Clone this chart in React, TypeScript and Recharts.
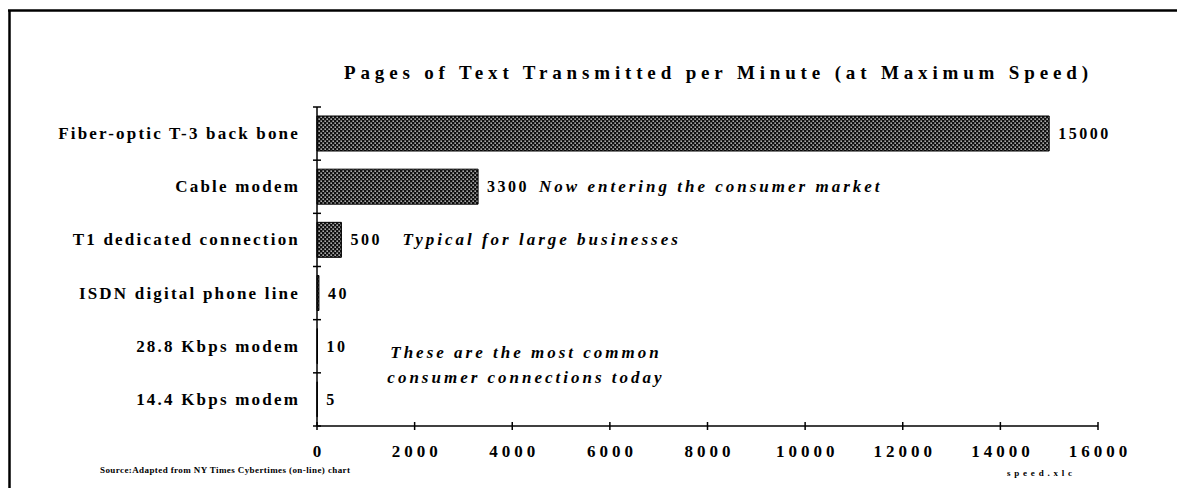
import React from 'react';
import { BarChart, Bar, XAxis, YAxis, LabelList, Customized } from 'recharts';

const categories = [
  'Fiber-optic T-3 back bone',
  'Cable modem',
  'T1 dedicated connection',
  'ISDN digital phone line',
  '28.8 Kbps modem',
  '14.4 Kbps modem',
];
const pagesPerMinute = [15000, 3300, 500, 40, 10, 5];
const xTicks = [0, 2000, 4000, 6000, 8000, 10000, 12000, 14000, 16000];
const rowNotes = ['', 'Now entering the consumer market', 'Typical for large businesses', '', '', ''];
const commonNote = ['These are the most common', 'consumer connections today'];
const title = 'Pages of Text Transmitted per Minute (at Maximum Speed)';
const sourceText = 'Source:Adapted from NY Times Cybertimes (on-line) chart';
const fileName = 'speed.xlc';

const data = categories.map((name, i) => ({ name, value: pagesPerMinute[i], note: rowNotes[i] }));

const W = 1170;
const H = 480;
const MARGIN = { top: 99, right: 80, bottom: 32, left: 0 };
const Y_AXIS_W = 309;
const X_AXIS_H = 30;
const PLOT_TOP = MARGIN.top;
const PLOT_BOTTOM = H - MARGIN.bottom - X_AXIS_H;
const BAND = (PLOT_BOTTOM - PLOT_TOP) / categories.length;
const FONT = '"Liberation Serif", "Times New Roman", serif';

const Y_TICK_SIZE = 8;
const Y_TICK_MARGIN = 9;
const X_TICK_SIZE = 4;
const X_TICK_MARGIN = 4;

const YTick = (props: any) => {
  const { x, y, payload, index } = props;
  const axisX = x + Y_TICK_SIZE + Y_TICK_MARGIN;
  const isLast = index === categories.length - 1;
  return (
    <g>
      <line x1={axisX - 4} x2={axisX + 4} y1={y - BAND / 2} y2={y - BAND / 2} stroke="#000" strokeWidth={1.5} />
      {isLast && (
        <line x1={axisX - 4} x2={axisX + 4} y1={y + BAND / 2} y2={y + BAND / 2} stroke="#000" strokeWidth={1.5} />
      )}
      <text
        x={x}
        y={y}
        textAnchor="end"
        dominantBaseline="central"
        fontFamily={FONT}
        fontWeight="bold"
        fontSize={17}
        letterSpacing={2.2}
        fill="#000"
      >
        {payload.value}
      </text>
    </g>
  );
};

const XTick = (props: any) => {
  const { x, y, payload } = props;
  const axisY = y - X_TICK_SIZE - X_TICK_MARGIN;
  return (
    <g>
      <line x1={x} x2={x} y1={axisY - 4} y2={axisY + 4} stroke="#000" strokeWidth={1.5} />
      <text
        x={x + 2}
        y={axisY + 25}
        textAnchor="middle"
        dominantBaseline="central"
        fontFamily={FONT}
        fontWeight="bold"
        fontSize={17}
        letterSpacing={4}
        fill="#000"
      >
        {payload.value}
      </text>
    </g>
  );
};

const ValueLabel = (props: any) => {
  const { x, y, width, height, value } = props;
  return (
    <text
      x={x + width + 9}
      y={y + height / 2}
      dominantBaseline="central"
      fontFamily={FONT}
      fontWeight="bold"
      fontSize={16}
      letterSpacing={2.5}
      fill="#000"
    >
      {value}
    </text>
  );
};

const NoteLabel = (props: any) => {
  const { x, y, width, height, value } = props;
  if (!value) return null;
  return (
    <text
      x={x + width + 61}
      y={y + height / 2}
      dominantBaseline="central"
      fontFamily={FONT}
      fontWeight="bold"
      fontStyle="italic"
      fontSize={17}
      letterSpacing={3}
      fill="#000"
    >
      {value}
    </text>
  );
};

const Decorations = () => (
  <g>
    <defs>
      <pattern id="dots" width="4" height="4" patternUnits="userSpaceOnUse">
        <rect width="4" height="4" fill="#111" />
        <rect x="0.5" y="0.5" width="1.3" height="1.3" fill="#fff" />
        <rect x="2.5" y="2.5" width="1.3" height="1.3" fill="#fff" />
      </pattern>
    </defs>
    <line x1={1.5} y1={H + 5} x2={1.5} y2={2.5} stroke="#000" strokeWidth={2.5} />
    <line x1={0} y1={2.5} x2={W - 1} y2={2.5} stroke="#000" strokeWidth={2.5} />
    <text
      x={336}
      y={64}
      dominantBaseline="central"
      fontFamily={FONT}
      fontWeight="bold"
      fontSize={19}
      textLength={744}
      lengthAdjust="spacing"
      fill="#000"
    >
      {title}
    </text>
    {commonNote.map((line, i) => (
      <text
        key={line}
        x={518}
        y={344 + i * 25}
        textAnchor="middle"
        dominantBaseline="central"
        fontFamily={FONT}
        fontWeight="bold"
        fontStyle="italic"
        fontSize={17}
        letterSpacing={3}
        fill="#000"
      >
        {line}
      </text>
    ))}
    <text
      x={92}
      y={462}
      dominantBaseline="central"
      fontFamily={FONT}
      fontWeight="bold"
      fontSize={9}
      textLength={250}
      lengthAdjust="spacing"
      fill="#000"
    >
      {sourceText}
    </text>
    <text
      x={999}
      y={465}
      dominantBaseline="central"
      fontFamily={FONT}
      fontWeight="bold"
      fontSize={9}
      textLength={65}
      lengthAdjust="spacing"
      fill="#000"
    >
      {fileName}
    </text>
  </g>
);

export default function App() {
  return (
    <div style={{ position: 'absolute', left: 8, top: 8, width: W, height: H, background: '#fff', overflow: 'hidden' }}>
      <BarChart
        width={W}
        height={H}
        data={data}
        layout="vertical"
        margin={MARGIN}
        accessibilityLayer={false}
        style={{ outline: 'none' }}
      >
        <Customized component={Decorations} />
        <XAxis
          type="number"
          domain={[0, 16000]}
          ticks={xTicks}
          interval={0}
          height={X_AXIS_H}
          axisLine={{ stroke: '#000', strokeWidth: 1.5 }}
          tickLine={false}
          tickSize={X_TICK_SIZE}
          tickMargin={X_TICK_MARGIN}
          tick={<XTick />}
        />
        <YAxis
          type="category"
          dataKey="name"
          width={Y_AXIS_W}
          axisLine={{ stroke: '#000', strokeWidth: 1.5 }}
          tickLine={false}
          tickSize={Y_TICK_SIZE}
          tickMargin={Y_TICK_MARGIN}
          interval={0}
          tick={<YTick />}
        />
        <Bar dataKey="value" fill="url(#dots)" stroke="#000" strokeWidth={1} barSize={35} isAnimationActive={false}>
          <LabelList dataKey="value" content={<ValueLabel />} />
          <LabelList dataKey="note" content={<NoteLabel />} />
        </Bar>
      </BarChart>
    </div>
  );
}
